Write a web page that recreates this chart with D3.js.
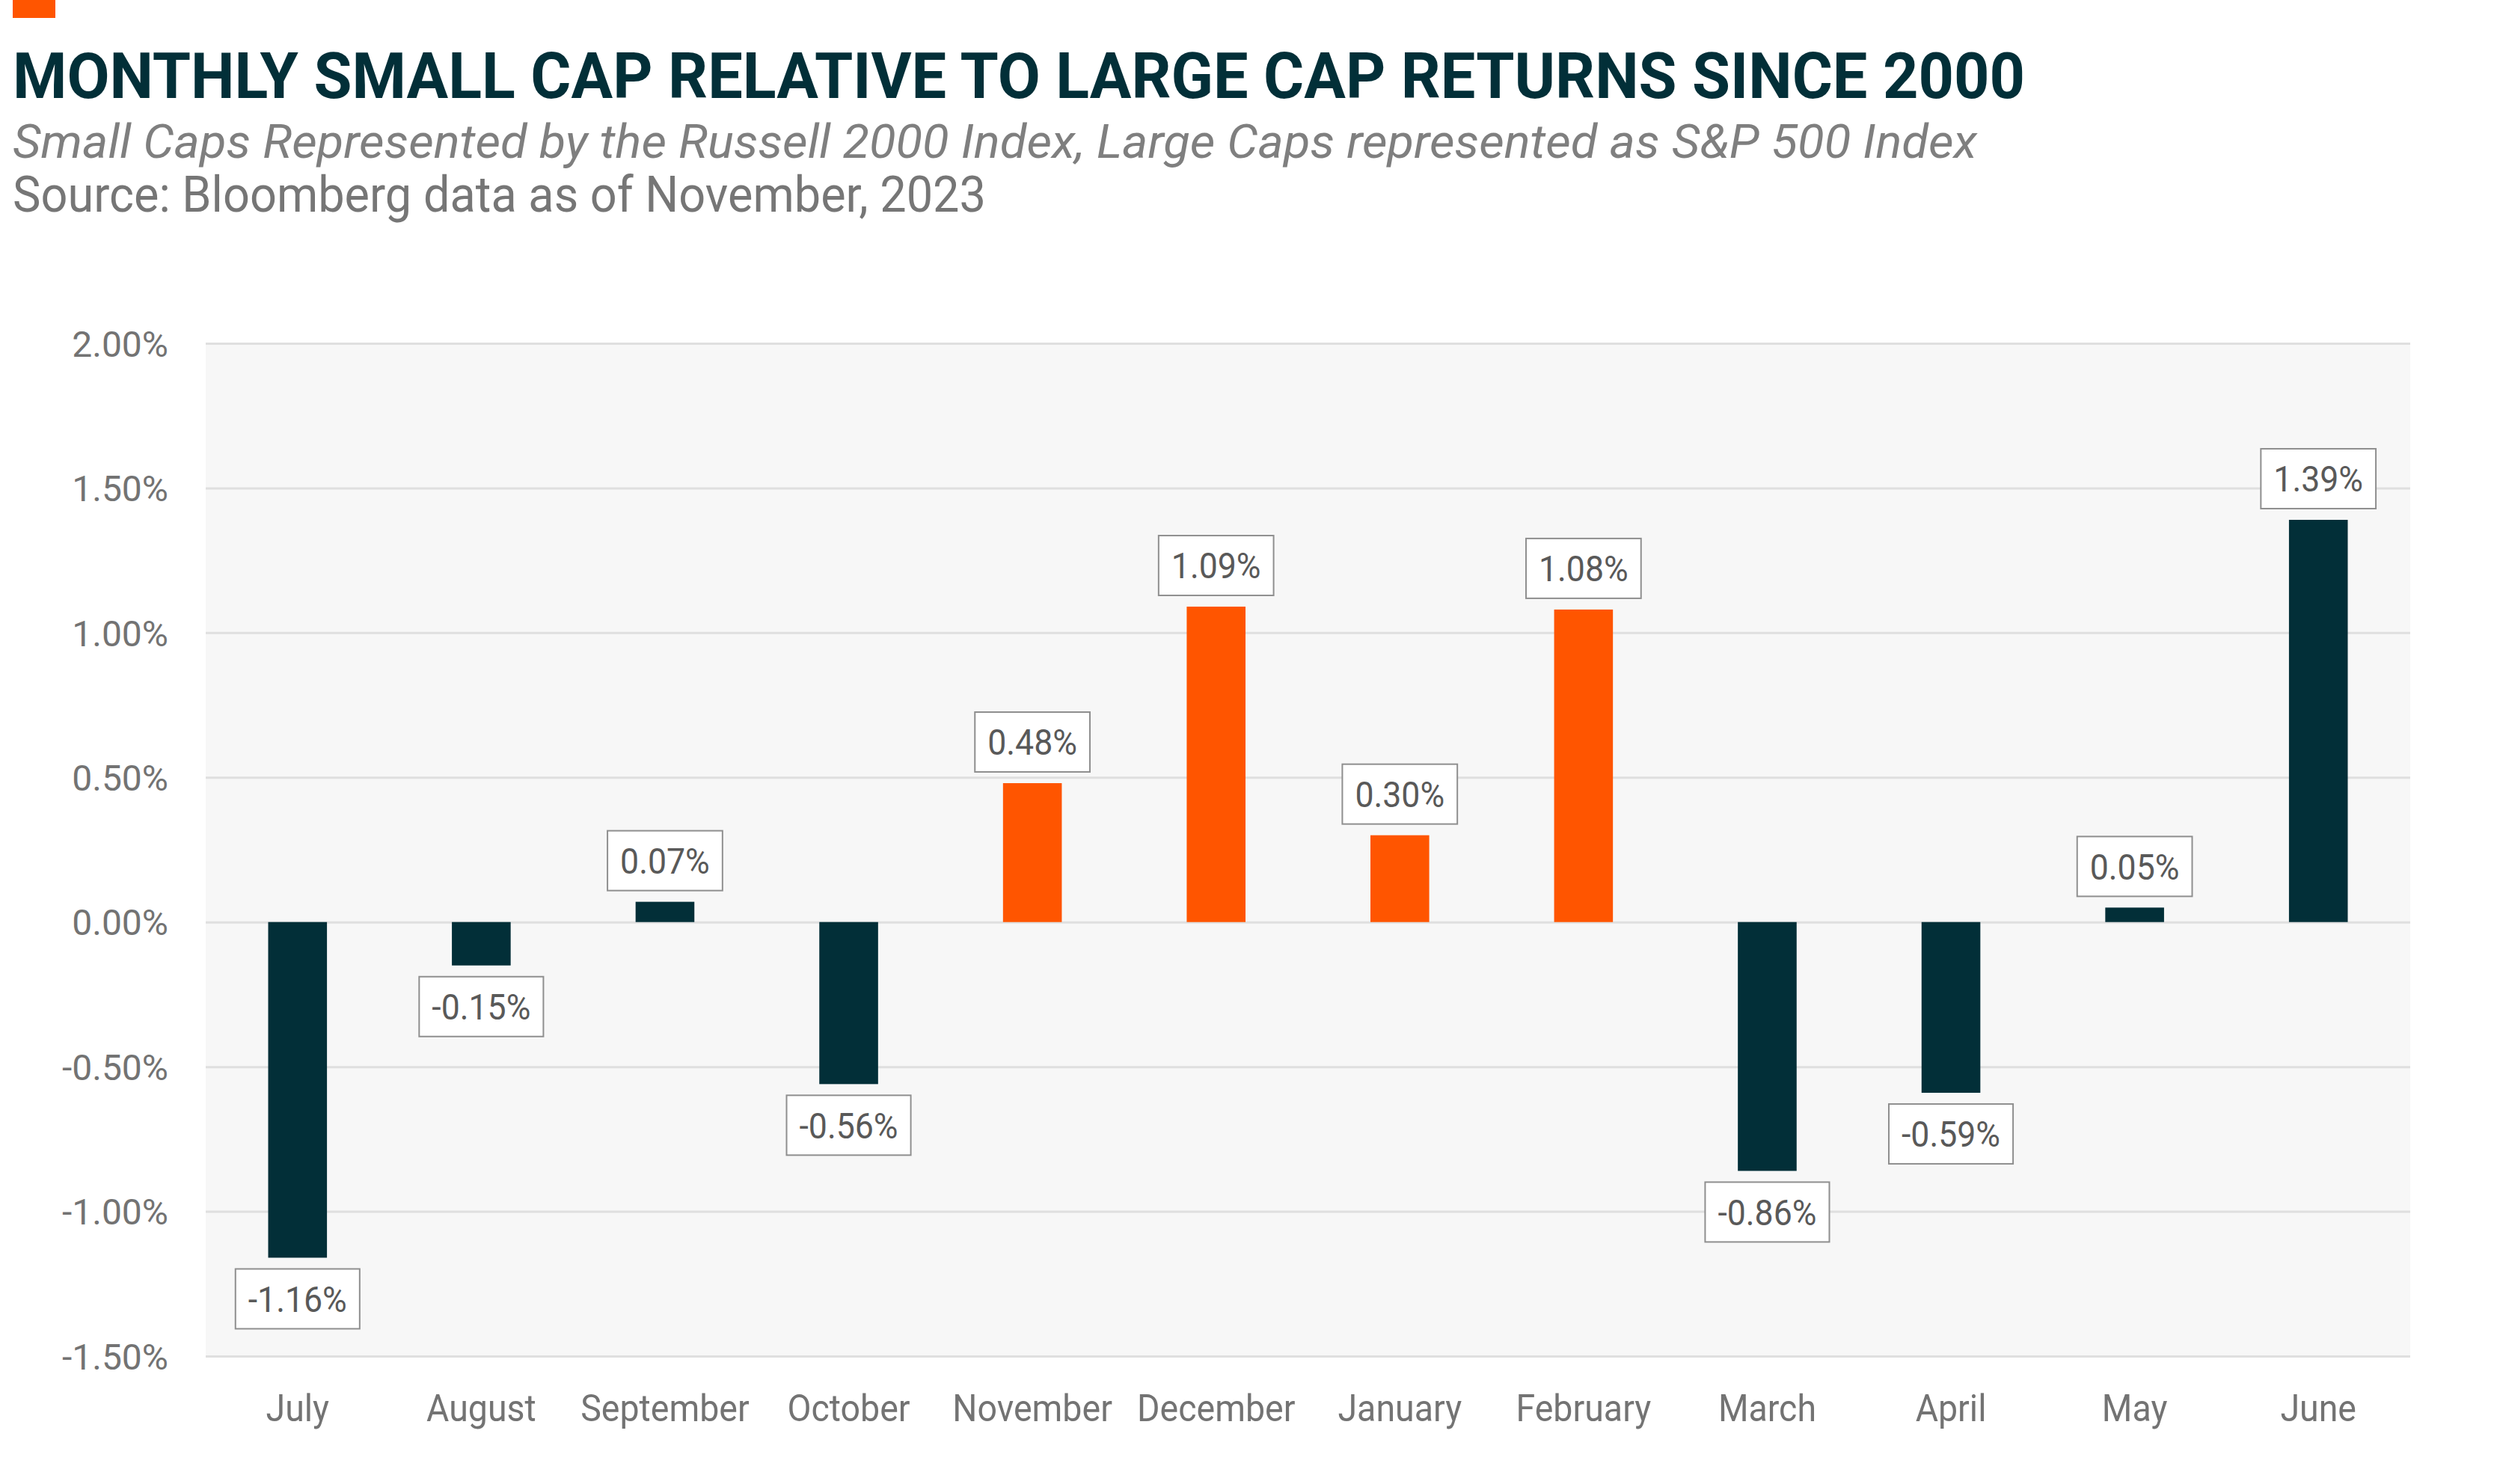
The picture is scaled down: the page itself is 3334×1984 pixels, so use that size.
<!DOCTYPE html>
<html>
<head>
<meta charset="utf-8">
<script src="https://cdn.jsdelivr.net/npm/d3@7"></script>
<style>
  html, body { margin: 0; padding: 0; background: #ffffff; }
  svg { display: block; }
  text { font-family: Roboto, "Noto Sans", sans-serif; }
</style>
</head>
<body>
<svg id="chart" width="3334" height="1984"></svg>
<script>
// ---- data ----
const months = ["July","August","September","October","November","December","January","February","March","April","May","June"];
const values = [-1.16, -0.15, 0.07, -0.56, 0.48, 1.09, 0.30, 1.08, -0.86, -0.59, 0.05, 1.39];
const highlighted = ["November","December","January","February"];
const yTicks = [2.0, 1.5, 1.0, 0.5, 0.0, -0.5, -1.0, -1.5];
const titleText = "MONTHLY SMALL CAP RELATIVE TO LARGE CAP RETURNS SINCE 2000";
const subtitleText = "Small Caps Represented by the Russell 2000 Index, Large Caps represented as S&P 500 Index";
const sourceText = "Source: Bloomberg data as of November, 2023";

// ---- layout ----
const W = 3334, H = 1984;
const plot = { left: 275, right: 3222, top: 459, bottom: 1813 };
const dark = "#022f38", orange = "#ff5500";

const svg = d3.select("#chart");

// header
svg.append("rect").attr("x", 17).attr("y", 0).attr("width", 57).attr("height", 24).attr("fill", orange);

svg.append("text").attr("x", 17).attr("y", 131)
  .attr("font-size", 86).attr("font-weight", 700).attr("fill", "#022f38")
  .attr("textLength", 2690).attr("lengthAdjust", "spacingAndGlyphs")
  .text(titleText);

svg.append("text").attr("x", 17).attr("y", 211)
  .attr("font-size", 63).attr("font-style", "italic").attr("fill", "#7f7f7f")
  .attr("textLength", 2626).attr("lengthAdjust", "spacingAndGlyphs")
  .text(subtitleText);

svg.append("text").attr("x", 17).attr("y", 283)
  .attr("font-size", 66).attr("fill", "#767676")
  .attr("textLength", 1301).attr("lengthAdjust", "spacingAndGlyphs")
  .text(sourceText);

// scales
const x = d3.scaleBand().domain(months).range([plot.left, plot.right])
  .paddingInner(0.68).paddingOuter(0.34);
const y = d3.scaleLinear().domain([-1.5, 2.0]).range([plot.bottom, plot.top]);

// plot background
svg.append("rect").attr("x", plot.left).attr("y", plot.top)
  .attr("width", plot.right - plot.left).attr("height", plot.bottom - plot.top)
  .attr("fill", "#f7f7f7");

// y axis (gridlines + labels)
const yAxis = d3.axisLeft(y).tickValues(yTicks)
  .tickSize(-(plot.right - plot.left)).tickPadding(50)
  .tickFormat(d => d.toFixed(2) + "%");
const gy = svg.append("g").attr("transform", `translate(${plot.left},0)`).call(yAxis);
gy.select(".domain").remove();
gy.selectAll(".tick line").attr("stroke", "#dfdfdf").attr("stroke-width", 3);
gy.selectAll(".tick text").attr("font-size", 48).attr("fill", "#737373")
  .attr("font-family", "Roboto, sans-serif").attr("dy", "0.36em");

// x axis labels
const xAxis = d3.axisBottom(x).tickSize(0).tickPadding(0);
const gx = svg.append("g").attr("transform", `translate(0,${plot.bottom})`).call(xAxis);
gx.select(".domain").remove();
gx.selectAll(".tick text").attr("font-size", 50).attr("fill", "#737373")
  .attr("font-family", "Roboto, sans-serif").attr("dy", 0).attr("y", 87)
  .each(function() {
    const len = this.getComputedTextLength();
    d3.select(this).attr("textLength", len * 0.93).attr("lengthAdjust", "spacingAndGlyphs");
  });

// bars
const data = months.map((m, i) => ({ m, v: values[i] }));
svg.append("g").selectAll("rect").data(data).join("rect")
  .attr("x", d => x(d.m))
  .attr("width", x.bandwidth())
  .attr("y", d => Math.min(y(d.v), y(0)))
  .attr("height", d => Math.abs(y(d.v) - y(0)))
  .attr("fill", d => highlighted.includes(d.m) ? orange : dark);

// data labels in boxes
const boxH = 80, gap = 15, padX = 17;
const lbl = svg.append("g").selectAll("g").data(data).join("g");
lbl.each(function(d) {
  const g = d3.select(this);
  const cx = x(d.m) + x.bandwidth() / 2;
  const top = d.v >= 0 ? y(d.v) - gap - boxH : y(d.v) + gap;
  const rect = g.append("rect");
  const t = g.append("text")
    .attr("x", cx).attr("y", top + boxH / 2).attr("dy", "0.36em")
    .attr("text-anchor", "middle").attr("font-size", 48).attr("fill", "#595959")
    .text(d.v.toFixed(2) + "%");
  const len = t.node().getComputedTextLength() * 0.93;
  t.attr("textLength", len).attr("lengthAdjust", "spacingAndGlyphs");
  const bw = len + 2 * padX;
  rect.attr("x", cx - bw / 2).attr("y", top).attr("width", bw).attr("height", boxH)
    .attr("fill", "#ffffff").attr("stroke", "#8f8f8f").attr("stroke-width", 2);
});
</script>
</body>
</html>
